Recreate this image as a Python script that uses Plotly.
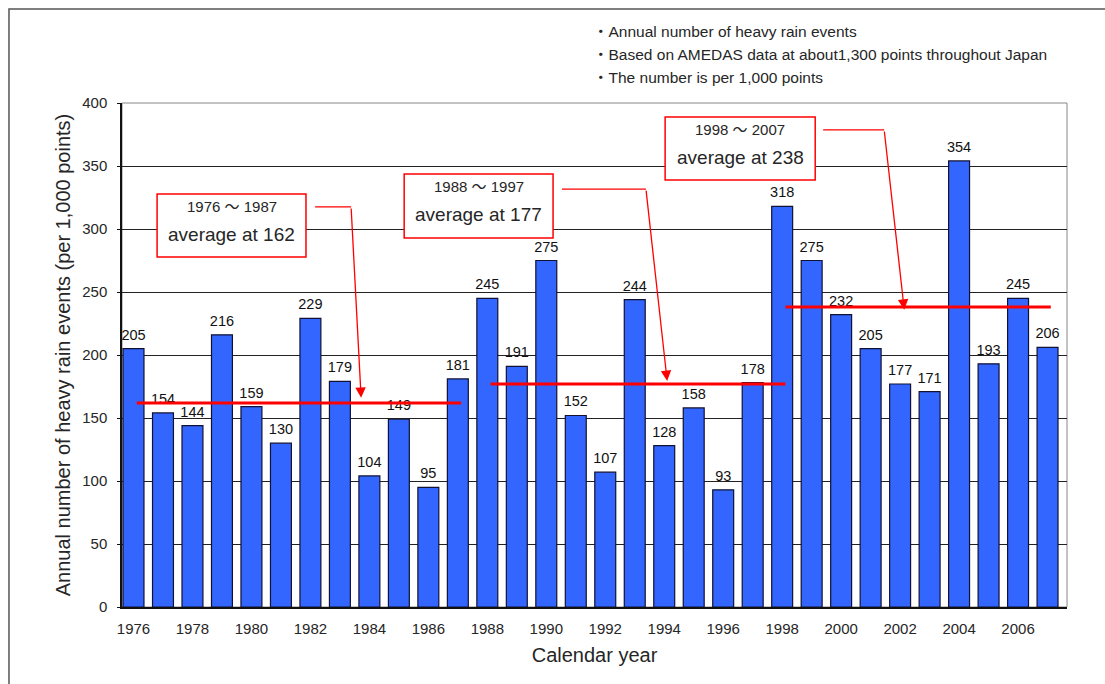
import plotly.graph_objects as go

# Annual number of heavy rain events per 1,000 AMeDAS points
years = list(range(1976, 2008))
events = [205, 154, 144, 216, 159, 130, 229, 179, 104, 149, 95, 181,
          245, 191, 275, 152, 107, 244, 128, 158, 93, 178,
          318, 275, 232, 205, 177, 171, 354, 193, 245, 206]

# Period averages
period_labels = ["1976 ～ 1987", "1988 ～ 1997", "1998 ～ 2007"]
period_avgs = [162, 177, 238]
period_spans = [(1976, 1987), (1988, 1998), (1998, 2007)]

notes = [
    "・Annual number of heavy rain events",
    "・Based on AMEDAS data at about1,300 points throughout Japan",
    "・The number is per 1,000 points",
]

FONT = "Liberation Sans, Arial, Noto Sans CJK JP, sans-serif"
TXT = "#262626"
RED = "#ff0000"
SHIFT = 0.11  # average lines sit on category centres, slightly right of the bars

fig = go.Figure()

fig.add_trace(go.Bar(
    x=years, y=events, width=0.71,
    marker=dict(color="#3366ff", line=dict(color="#111133", width=1.2)),
    hoverinfo="x+y", showlegend=False,
))

# Value labels above each bar (an invisible marker sets the gap above the bar top)
fig.add_trace(go.Scatter(
    x=years, y=events, mode="markers+text", text=[str(v) for v in events],
    textposition="top center",
    marker=dict(size=7, color="rgba(0,0,0,0)"),
    textfont=dict(family=FONT, size=14.5, color="#111111"),
    cliponaxis=False, showlegend=False, hoverinfo="skip",
))

shapes = []
annotations = []

# Figure frame (top and left edges visible)
shapes.append(dict(type="rect", xref="paper", yref="paper",
                   x0=-0.1196, x1=1.2, y0=-0.3, y1=1.1865,
                   line=dict(color="#555555", width=1.5), layer="below"))
# Plot-area border
shapes.append(dict(type="rect", xref="paper", yref="paper",
                   x0=0, x1=1, y0=0, y1=1,
                   line=dict(color="#888888", width=1), layer="below"))

# Average lines
for (s, e), avg in zip(period_spans, period_avgs):
    shapes.append(dict(type="line", xref="x", yref="y",
                       x0=s + SHIFT, x1=e + SHIFT, y0=avg, y1=avg,
                       line=dict(color=RED, width=3), layer="above"))

# Callout boxes: (x0, x1, y_top, y_bottom) in data units
boxes = [(1976.80, 1981.85, 327.8, 277.8),
         (1985.18, 1990.23, 343.7, 292.9),
         (1994.03, 1999.12, 388.9, 338.9)]
# Callout arrows: start, bend, tip
arrows = [((1982.16, 317.5), (1983.38, 317.5), (1983.72, 166.0)),
          ((1990.53, 331.7), (1993.38, 331.7), (1994.10, 179.4)),
          ((1999.39, 378.6), (2001.46, 378.6), (2002.14, 236.0))]

for (bx0, bx1, ytop, ybot), lab, avg, (p0, p1, tip) in zip(boxes, period_labels, period_avgs, arrows):
    shapes.append(dict(type="rect", xref="x", yref="y",
                       x0=bx0, x1=bx1, y0=ybot, y1=ytop,
                       fillcolor="white", line=dict(color=RED, width=1.5), layer="above"))
    h = ytop - ybot
    cx = (bx0 + bx1) / 2
    annotations.append(dict(x=cx, y=ytop - 0.2 * h, xref="x", yref="y",
                            text=lab, showarrow=False,
                            font=dict(family=FONT, size=15, color=TXT)))
    annotations.append(dict(x=cx, y=ytop - 0.64 * h, xref="x", yref="y",
                            text=f"average at {avg}", showarrow=False,
                            font=dict(family=FONT, size=19, color=TXT)))
    shapes.append(dict(type="line", xref="x", yref="y",
                       x0=p0[0], y0=p0[1], x1=p1[0], y1=p1[1],
                       line=dict(color=RED, width=1.3), layer="above"))
    annotations.append(dict(x=tip[0], y=tip[1], ax=p1[0], ay=p1[1],
                            xref="x", yref="y", axref="x", ayref="y",
                            text="", showarrow=True, arrowhead=2,
                            arrowsize=1.6, arrowwidth=1.3, arrowcolor=RED))

# Notes at the top
for i, t in enumerate(notes):
    annotations.append(dict(x=0.4963, y=1.1409 - i * 0.0456, xref="paper", yref="paper",
                            xanchor="left", yanchor="middle", text=t, showarrow=False,
                            font=dict(family=FONT, size=15.5, color=TXT)))

fig.update_layout(
    width=1105, height=684,
    margin=dict(l=122, r=38, t=103, b=77),
    paper_bgcolor="white", plot_bgcolor="white",
    font=dict(family=FONT, color=TXT),
    shapes=shapes, annotations=annotations,
    bargap=0.3,
    xaxis=dict(
        range=[1975.61, 2007.66], tickmode="array",
        tickvals=years[::2], ticktext=[str(y) for y in years[::2]],
        tickfont=dict(size=15, color=TXT), ticks="", showgrid=False,
        ticklabelstandoff=7,
        showline=True, linecolor="#111111", linewidth=1.5,
        title=dict(text="Calendar year", font=dict(size=20, color=TXT), standoff=12),
        zeroline=False,
    ),
    yaxis=dict(
        range=[0, 400], tickmode="linear", tick0=0, dtick=50,
        tickfont=dict(size=15, color=TXT), ticks="outside", ticklen=3,
        tickcolor="#111111", ticklabelstandoff=7,
        showgrid=True, gridcolor="#222222", gridwidth=1,
        showline=True, linecolor="#111111", linewidth=1.5,
        title=dict(text="Annual number of heavy rain events (per 1,000 points)",
                   font=dict(size=20, color=TXT), standoff=6),
        zeroline=False,
    ),
)

fig.write_html("out.html")
